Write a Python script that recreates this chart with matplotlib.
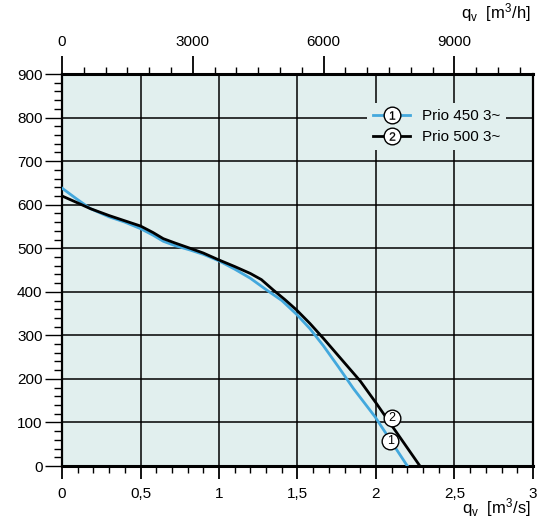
import matplotlib
matplotlib.use("Agg")
import matplotlib.pyplot as plt
from matplotlib.lines import Line2D
from matplotlib.legend_handler import HandlerTuple
from matplotlib.ticker import MultipleLocator, FixedLocator

plt.rcParams['font.family'] = ['Liberation Sans', 'DejaVu Sans']
plt.rcParams['mathtext.fontset'] = 'custom'
plt.rcParams['mathtext.rm'] = 'Liberation Sans'
plt.rcParams['mathtext.it'] = 'Liberation Sans'

# curve data, q_v [m3/s] vs pressure [Pa]
q_450 = [0, 0.09, 0.18, 0.3, 0.4, 0.5, 0.58, 0.645, 0.72, 0.815, 0.9, 1.0, 1.1, 1.2,
         1.3, 1.4, 1.495, 1.58, 1.665, 1.76, 1.856, 1.994, 2.2]
p_450 = [638, 614, 591, 572, 560, 545, 530, 516, 506, 496, 486, 471, 452, 431,
         405, 380, 348, 315, 276, 228, 178, 113, 0]
q_500 = [0, 0.1, 0.18, 0.3, 0.4, 0.5, 0.58, 0.645, 0.72, 0.815, 0.9, 1.0, 1.1, 1.2,
         1.27, 1.346, 1.42, 1.495, 1.58, 1.665, 1.78, 1.9, 2.0, 2.28]
p_500 = [620, 604, 591, 575, 563, 551, 536, 522, 512, 500, 489, 473, 458, 442,
         428, 404, 382, 358, 327, 293, 245, 195, 145, 0]
names = ['Prio 450 3~', 'Prio 500 3~']
nums = ['1', '2']
mark_q = [2.09, 2.10]
mark_p = [58, 110]

blue = '#43a8dd'
bg = '#e1efee'

x_ticks = [0, 0.5, 1, 1.5, 2, 2.5, 3]
x_labels = ['0', '0,5', '1', '1,5', '2', '2,5', '3']
top_ticks = [0, 3000, 6000, 9000]

fig = plt.figure(figsize=(5.46, 5.31), dpi=100)
ax = fig.add_axes([0.1136, 0.1224, 0.8625, 0.7382])
ax.set_facecolor(bg)

ax.plot(q_450, p_450, color=blue, lw=2.0, zorder=3)
ax.plot(q_500, p_500, color='black', lw=2.0, zorder=3)
for i in range(2):
    ax.plot(mark_q[i], mark_p[i], 'o', ms=12, mfc='white', mec='black', mew=1.0, zorder=4)
    ax.text(mark_q[i], mark_p[i], nums[i], ha='center', va='center', fontsize=9, zorder=5)

ax.set_xlim(0, 3)
ax.set_ylim(0, 900)
ax.xaxis.set_major_locator(FixedLocator(x_ticks))
ax.set_xticklabels(x_labels)
ax.xaxis.set_minor_locator(MultipleLocator(0.1))
ax.yaxis.set_major_locator(MultipleLocator(100))
ax.yaxis.set_minor_locator(MultipleLocator(20))
ax.grid(True, which='major', color='black', lw=1.1)
ax.set_axisbelow(True)
ax.tick_params(axis='x', which='major', length=9, width=1.3, labelsize=11, pad=6)
ax.tick_params(axis='x', which='minor', length=5, width=1.0)
ax.tick_params(axis='y', which='major', length=12, width=1.0, labelsize=11, pad=2)
ax.tick_params(axis='y', which='minor', length=6, width=1.0)
for s in ['top', 'bottom']:
    ax.spines[s].set_linewidth(2.2)
for s in ['left', 'right']:
    ax.spines[s].set_linewidth(1.6)

top = ax.twiny()
top.set_xlim(0, 3 * 3600)
top.xaxis.set_major_locator(FixedLocator(top_ticks))
top.xaxis.set_minor_locator(MultipleLocator(500))
top.tick_params(axis='x', which='major', length=13, width=1.3, labelsize=11, pad=5)
top.tick_params(axis='x', which='minor', length=5, width=1.0)
for s in top.spines.values():
    s.set_visible(False)

fig.text(0.972, 0.022, r'q$_\mathregular{v}$  [m$^3$/s]', ha='right', va='bottom', fontsize=12)
fig.text(0.972, 0.955, r'q$_\mathregular{v}$  [m$^3$/h]', ha='right', va='bottom', fontsize=12)

colors = [blue, 'black']
handles = []
for i in range(2):
    h1 = Line2D([], [], color=colors[i], lw=2.0, marker='o', ms=12, mfc='white', mec='black', mew=1.0)
    h2 = Line2D([], [], ls='none', marker='$' + nums[i] + '$', ms=6, color='black', mew=0.2)
    handles.append((h1, h2))
leg = ax.legend(handles, names, handler_map={tuple: HandlerTuple(ndivide=1)},
                loc='upper right', bbox_to_anchor=(0.96, 0.945), frameon=True,
                fontsize=11, handlelength=2.4, labelspacing=0.45, borderpad=0.4)
leg.get_frame().set_facecolor(bg)
leg.get_frame().set_edgecolor('none')
leg.get_frame().set_alpha(1.0)

fig.savefig('out.png', dpi=100)
